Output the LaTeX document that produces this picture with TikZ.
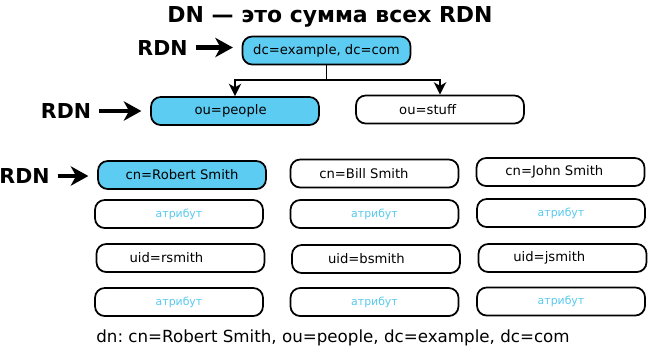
\documentclass[tikz,border=0pt]{standalone}
\usepackage{fontspec}
\setmainfont{DejaVu Sans}
\usetikzlibrary{arrows.meta}
\definecolor{rdnblue}{RGB}{92,204,242}
\definecolor{attrblue}{RGB}{88,200,238}
\frenchspacing
\begin{document}
\begin{tikzpicture}[x=0.02cm,y=-0.02cm,
  entry/.style={draw=black,line width=1pt,rounded corners=5.5pt,minimum width=3.36cm,minimum height=0.56cm,inner sep=0pt,font=\fontsize{7.5}{9}\selectfont},
  rdnentry/.style={entry,fill=rdnblue},
  attrentry/.style={entry,text=attrblue,font=\fontsize{6.2}{8}\selectfont},
  rdnlabel/.style={anchor=base,inner sep=0pt,font=\bfseries\fontsize{11.7}{14}\selectfont},
  rdnarrow/.style={line width=2.4pt,-{Stealth[length=10pt,width=11pt,inset=3pt]},shorten <=4.5pt,shorten >=5pt},
  treearrow/.style={line width=1.1pt,-{Stealth[length=7pt,width=7pt,inset=2pt]}}]
\useasboundingbox (0,0) rectangle (650,346);

% title
\node[anchor=base,font=\bfseries\fontsize{12.5}{15}\selectfont] (title) at (330,22.7) {DN — это сумма всех RDN};

% tree
\node[rdnentry] (base) at (326.5,50.5) {dc=example, dc=com};
\node[rdnentry] (people) at (235,111) {ou=people\hspace*{5pt}};
\node[entry] (stuff) at (440,109.5) {ou=stuff\hspace*{14pt}};
\coordinate (split) at (326.5,80);
\draw[treearrow] (base.south) -- (split) -| (people.north);
\draw[treearrow] (split) -| (stuff.north);

% entries
\node[rdnentry] (robert) at (182,175) {cn=Robert Smith};
\node[entry] (bill) at (374.5,173.5) {cn=Bill Smith\hspace*{12pt}};
\node[entry] (john) at (560.5,172) {cn=John Smith\hspace*{7pt}};
\node[attrentry] (attrA) at (179,214) {атрибут};
\node[attrentry] (attrB) at (374.5,214) {атрибут};
\node[attrentry] (attrC) at (561,213) {атрибут};
\node[entry] (rsmith) at (180.5,258) {uid=rsmith\hspace*{16pt}};
\node[entry] (bsmith) at (376,259) {uid=bsmith\hspace*{11pt}};
\node[entry] (jsmith) at (562.5,258) {uid=jsmith\hspace*{15pt}};
\node[attrentry] (attrD) at (179,302) {атрибут};
\node[attrentry] (attrE) at (374.5,302) {атрибут};
\node[attrentry] (attrF) at (561,301.5) {атрибут};

% RDN markers
\node[rdnlabel] (rdnA) at (162.5,55) {RDN};
\node[rdnlabel] (rdnB) at (66,118.5) {RDN};
\node[rdnlabel] (rdnC) at (24.5,183.5) {RDN};
\draw[rdnarrow] (rdnA) -- (rdnA -| base.west);
\draw[rdnarrow] (rdnB) -- (rdnB -| people.west);
\draw[rdnarrow] (rdnC) -- (rdnC -| robert.west);

\node[anchor=base,font=\fontsize{9.5}{11}\selectfont] (dn) at (333,342) {dn: cn=Robert Smith, ou=people, dc=example, dc=com};
\end{tikzpicture}
\end{document}
